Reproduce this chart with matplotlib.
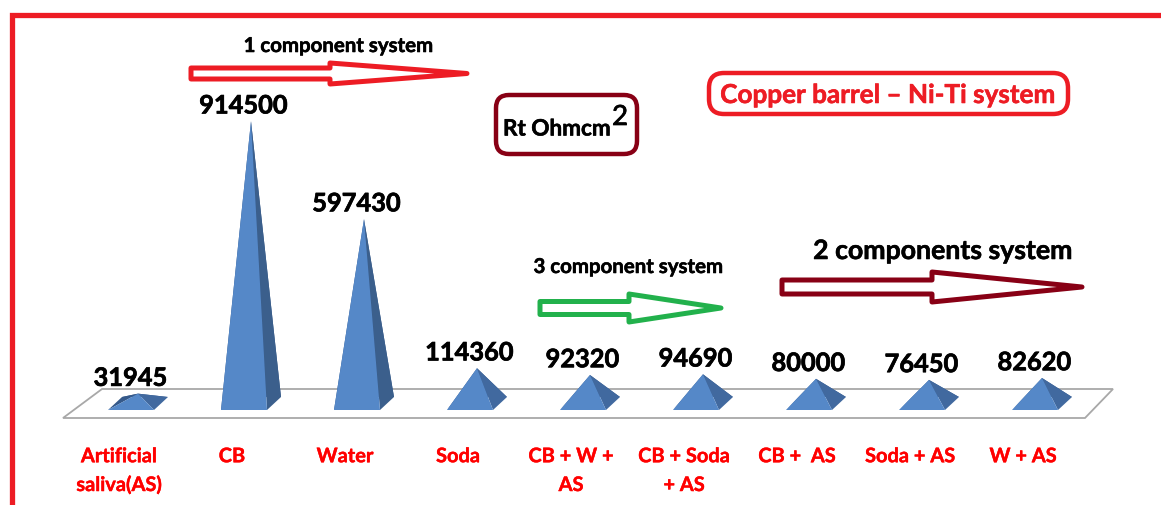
import numpy as np
import matplotlib
matplotlib.use("Agg")
import matplotlib.pyplot as plt
import matplotlib.patheffects as pe
from matplotlib.patches import Polygon, FancyBboxPatch
from matplotlib.lines import Line2D
from matplotlib.transforms import Affine2D

plt.rcParams['font.family'] = ['Lato', 'DejaVu Sans']

categories = ['Artificial\nsaliva(AS)', 'CB', 'Water', 'Soda', 'CB + W +\nAS',
              'CB + Soda\n+ AS', 'CB +  AS', 'Soda + AS', 'W + AS']
values = [31945, 914500, 597430, 114360, 92320, 94690, 80000, 76450, 82620]

W, H = 1161, 506
RED = '#ed1c24'
DARK_RED = '#880015'
GREEN = '#22b14c'

fig = plt.figure(figsize=(W / 100, H / 100), dpi=100)
# picture coordinates for the drawn-on shapes (y going down)
px = Affine2D().scale(1 / W, -1 / H).translate(0, 1) + fig.transFigure


def heavy(color, width=0.45):
    # the reference text is a good deal heavier than Lato bold
    return [pe.withStroke(linewidth=width, foreground=color)]


# value axis: 1 category = 113 px, 1 px = 3240 ohm cm2, zero sits at y=404.5
PX_X = 1 / 113
PX_Y = 3240
ax_bottom = 425
ax = fig.add_axes([0, (H - ax_bottom) / H, 1, ax_bottom / H])
ax.set_xlim(-138 * PX_X, (W - 138) * PX_X)
ax.set_ylim((404.5 - ax_bottom) * PX_Y, 404.5 * PX_Y)
ax.patch.set_alpha(0)
for s in ax.spines.values():
    s.set_visible(False)
ax.set_yticks([])

x = np.arange(len(values))
ax.set_xticks(x - 19 * PX_X, categories, color='#ff0000', fontweight='bold',
              fontsize=14.4, linespacing=1.55)
ax.tick_params(axis='x', length=0, pad=16)
for lab in ax.get_xticklabels():
    lab.set_path_effects(heavy('#ff0000', 0.3))

# floor of the 3d chart
floor = Polygon([(63, 419), (1085, 419), (1113, 390), (102, 390)], closed=True,
                facecolor='white', edgecolor='#a8a8a8', lw=1.3, transform=px, clip_on=False)
ax.add_patch(floor)

front_y = -6.5 * PX_Y
back_y = 6.5 * PX_Y
for i, v in zip(x, values):
    fl = (i - 30 * PX_X, front_y)
    fr = (i + 16 * PX_X, front_y)
    br = (i + 30 * PX_X, back_y)
    bl = (i - 16 * PX_X, back_y)
    top = (i, v)
    ax.add_patch(Polygon([bl, br, top], facecolor='#35598a', lw=0))
    ax.add_patch(Polygon([fl, bl, top], facecolor='#35598a', lw=0))
    side = '#3b5f8c' if v > 200000 else '#41699f'
    ax.add_patch(Polygon([fr, br, top], facecolor=side, lw=0))
    ax.add_patch(Polygon([fl, fr, top], facecolor='#5588c8', lw=0))
    ax.annotate(str(v), (i, v), xytext=(-5.5, 11), textcoords='offset points',
                ha='center', va='center', fontsize=18.3, fontweight='bold', color='black',
                path_effects=heavy('black', 0.5))

# red frame, only top and left
fig.add_artist(Line2D([11.5, 11.5, W], [H, 15.5, 15.5], color=RED, lw=3.8,
                      transform=px, solid_joinstyle='miter'))


def block_arrow(x0, x1, xn, ymid, body, head, color):
    pts = [(x0, ymid - body), (xn, ymid - body), (xn, ymid - head), (x1, ymid),
           (xn, ymid + head), (xn, ymid + body), (x0, ymid + body)]
    fig.add_artist(Polygon(pts, closed=True, facecolor='white', edgecolor=color, lw=3.6,
                           transform=px, joinstyle='round'))


block_arrow(191, 467, 330, 74.5, 5.5, 10.5, RED)
block_arrow(540, 721, 629, 309, 6.5, 14, GREEN)
block_arrow(782, 1082, 932, 288, 7, 15, DARK_RED)


def round_box(x0, y0, x1, y1, rad, color):
    fig.add_artist(FancyBboxPatch((x0 + rad, y0 + rad), x1 - x0 - 2 * rad, y1 - y0 - 2 * rad,
                                  boxstyle='round,pad=%d,rounding_size=%d' % (rad, rad),
                                  facecolor='white', edgecolor=color, lw=3.2, transform=px))


round_box(496, 96, 637, 155, 13, DARK_RED)
round_box(709, 74, 1068, 115, 15, RED)


def label(px_x, px_y, s, size, color='black', ha='center', weight='bold', width=0.4):
    fig.text(px_x, px_y, s, transform=px, color=color, fontsize=size, fontweight=weight,
             ha=ha, va='center', path_effects=heavy(color, width))


label(888, 96, 'Copper barrel – Ni-Ti system', 18.8, color=RED)
label(503, 130, 'Rt Ohmcm', 16.2, ha='left')
label(620, 118, '2', 20, weight='normal', width=0.5)
label(338, 47, '1 component system', 14.7)
label(628, 268, '3 component system', 14.7)
label(943, 252, '2 components system', 19.2)

fig.savefig('out.png', dpi=100, facecolor='white')
